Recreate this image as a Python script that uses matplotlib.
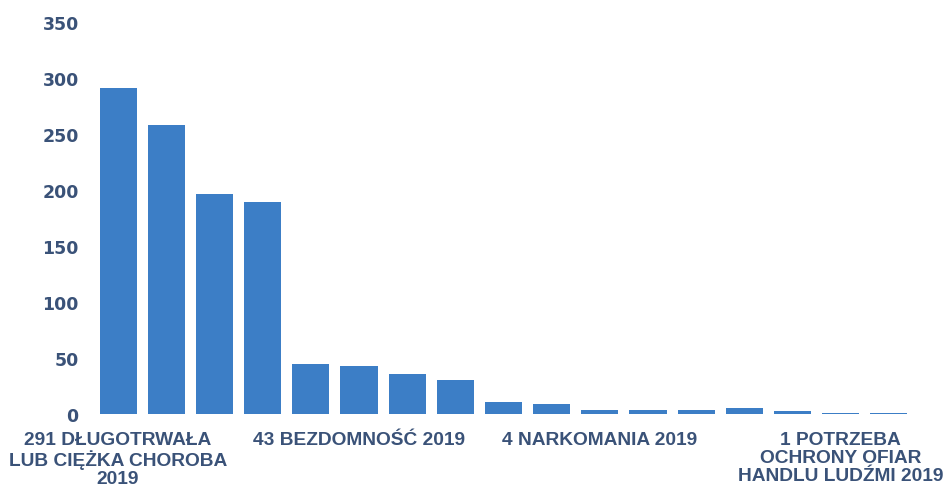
import matplotlib
matplotlib.use("Agg")
import matplotlib.pyplot as plt

# values (17 categories, only every 5th labelled)
values = [291, 258, 196, 189, 45, 43, 36, 30, 11, 9, 4, 4, 4, 5, 3, 1, 1]
tick_labels = [
    "291 DŁUGOTRWAŁA\nLUB CIĘŻKA CHOROBA\n2019", "", "", "", "",
    "43 BEZDOMNOŚĆ 2019", "", "", "", "",
    "4 NARKOMANIA 2019", "", "", "", "",
    "1 POTRZEBA\nOCHRONY OFIAR\nHANDLU LUDŹMI 2019", "",
]
y_ticks = [0, 50, 100, 150, 200, 250, 300, 350]

bar_color = "#3c7ec6"
text_color = "#3a5278"

fig = plt.figure(figsize=(9.44, 4.89), dpi=100)
fig.patch.set_facecolor("white")
ax = fig.add_axes([94 / 944, 74 / 489, (913 - 94) / 944, (415 - 23) / 489])

x = list(range(len(values)))
ax.bar(x, values, width=0.77, color=bar_color)

ax.set_xlim(-0.5, len(values) - 0.5)
ax.set_ylim(0, 350)
ax.set_yticks(y_ticks)
ax.set_xticks(x)
ax.set_xticklabels(tick_labels, fontsize=13.8, fontweight="bold",
                   color=text_color, linespacing=1.1,
                   family="Liberation Sans")
ax.tick_params(axis="y", length=0, pad=11, labelsize=12.5, labelcolor=text_color)
ax.tick_params(axis="x", length=0, pad=12)
for lbl in ax.get_yticklabels():
    lbl.set_fontweight("bold")

for s in ax.spines.values():
    s.set_visible(False)

fig.savefig("out.png", dpi=100, facecolor="white")
